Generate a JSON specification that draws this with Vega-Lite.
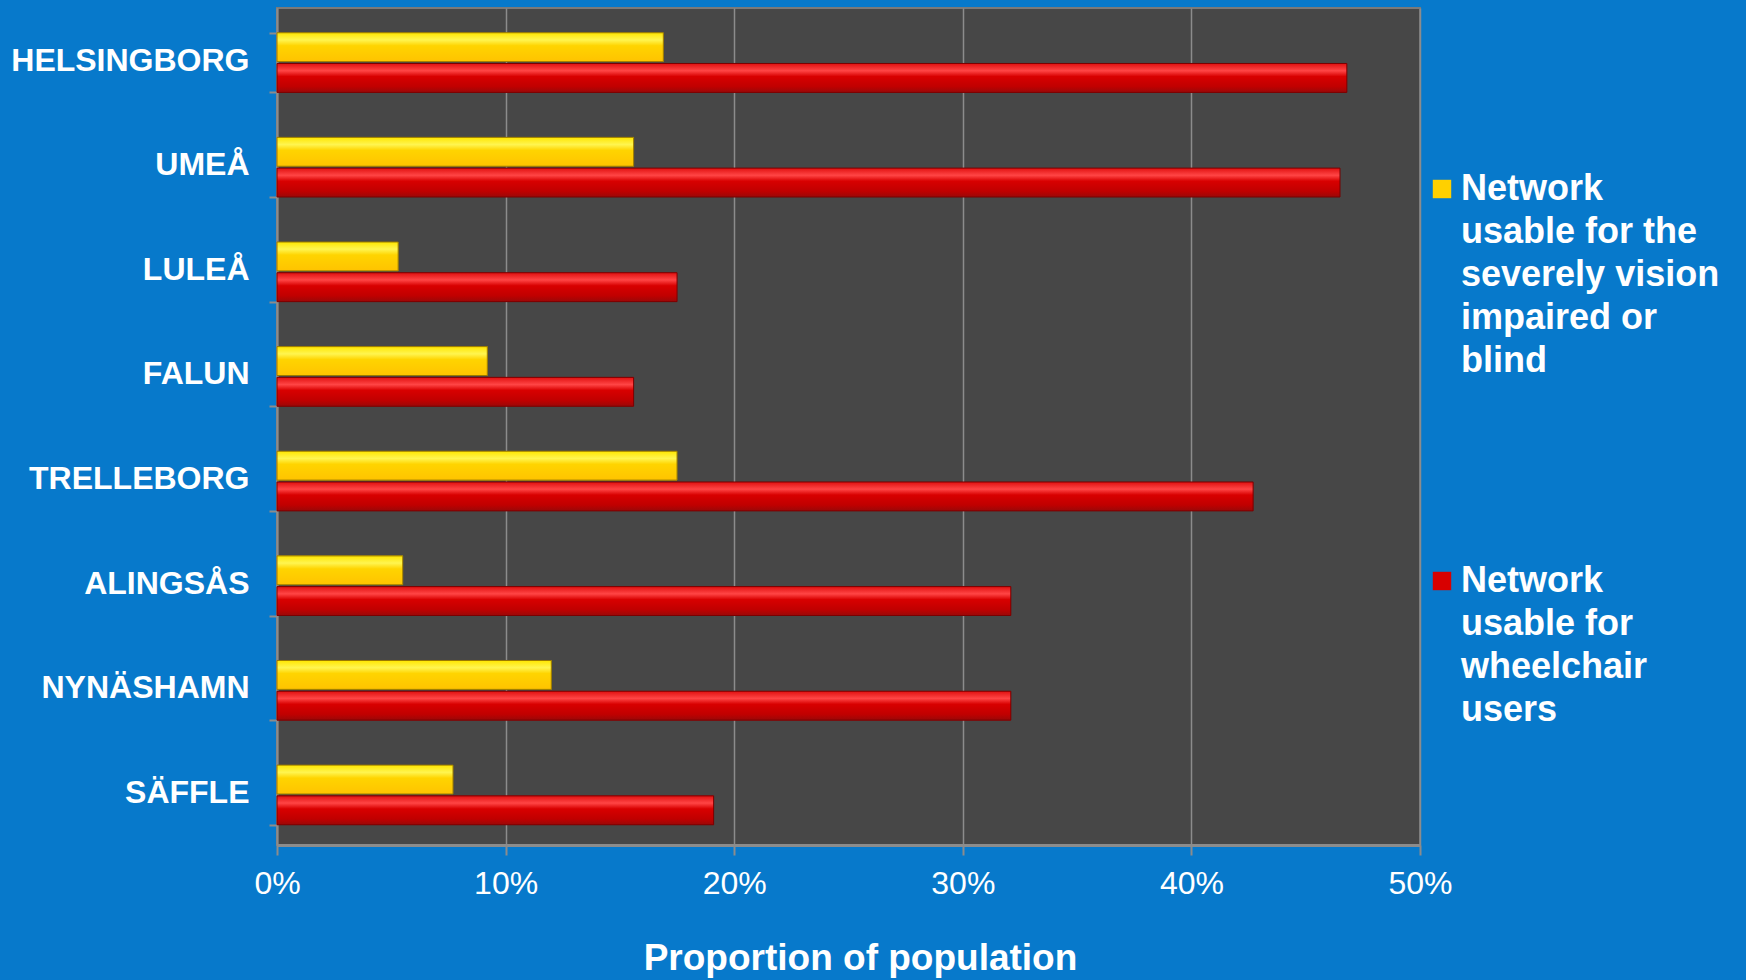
{
  "$schema": "https://vega.github.io/schema/vega-lite/v6.json",
  "autosize": {"type": "none"},
  "width": 1143,
  "height": 837,
  "padding": {"left": 277, "top": 8, "right": 326, "bottom": 135},
  "background": "#0779CB",
  "config": {
    "view": {"fill": "#474747", "stroke": "#7a7a7a", "strokeWidth": 2},
    "font": "Liberation Sans"
  },
  "data": {
    "values": [
      {"city": "HELSINGBORG", "series": "Network usable for the severely vision impaired or blind", "value": 0.169},
      {"city": "HELSINGBORG", "series": "Network usable for wheelchair users", "value": 0.468},
      {"city": "UMEÅ", "series": "Network usable for the severely vision impaired or blind", "value": 0.156},
      {"city": "UMEÅ", "series": "Network usable for wheelchair users", "value": 0.465},
      {"city": "LULEÅ", "series": "Network usable for the severely vision impaired or blind", "value": 0.053},
      {"city": "LULEÅ", "series": "Network usable for wheelchair users", "value": 0.175},
      {"city": "FALUN", "series": "Network usable for the severely vision impaired or blind", "value": 0.092},
      {"city": "FALUN", "series": "Network usable for wheelchair users", "value": 0.156},
      {"city": "TRELLEBORG", "series": "Network usable for the severely vision impaired or blind", "value": 0.175},
      {"city": "TRELLEBORG", "series": "Network usable for wheelchair users", "value": 0.427},
      {"city": "ALINGSÅS", "series": "Network usable for the severely vision impaired or blind", "value": 0.055},
      {"city": "ALINGSÅS", "series": "Network usable for wheelchair users", "value": 0.321},
      {"city": "NYNÄSHAMN", "series": "Network usable for the severely vision impaired or blind", "value": 0.120},
      {"city": "NYNÄSHAMN", "series": "Network usable for wheelchair users", "value": 0.321},
      {"city": "SÄFFLE", "series": "Network usable for the severely vision impaired or blind", "value": 0.077},
      {"city": "SÄFFLE", "series": "Network usable for wheelchair users", "value": 0.191}
    ]
  },
  "encoding": {
    "y": {
      "field": "city",
      "type": "nominal",
      "sort": ["HELSINGBORG", "UMEÅ", "LULEÅ", "FALUN", "TRELLEBORG", "ALINGSÅS", "NYNÄSHAMN", "SÄFFLE"],
      "scale": {"paddingInner": 0.43, "paddingOuter": 0.215, "align": 0.55},
      "axis": {
        "title": null,
        "tickBand": "extent",
        "tickSize": 8,
        "tickColor": "#8c8c8c",
        "tickWidth": 2,
        "domainColor": "#8c8c8c",
        "domainWidth": 2,
        "labelFont": "Liberation Sans",
        "labelFontWeight": "bold",
        "labelFontSize": 32,
        "labelColor": "white",
        "labelPadding": 20,
        "labelOffset": -2.5,
        "labelLimit": 400,
        "grid": false
      }
    },
    "yOffset": {
      "field": "series",
      "type": "nominal",
      "sort": ["Network usable for the severely vision impaired or blind", "Network usable for wheelchair users"],
      "scale": {"paddingInner": 0.06}
    },
    "x": {
      "field": "value",
      "type": "quantitative",
      "scale": {"domain": [0, 0.5], "nice": false},
      "axis": {
        "format": "%",
        "values": [0, 0.1, 0.2, 0.3, 0.4, 0.5],
        "title": "Proportion of population",
        "titleFont": "Liberation Sans",
        "titleFontWeight": "bold",
        "titleFontSize": 37,
        "titleColor": "white",
        "titlePadding": 41,
        "titleX": 583,
        "labelFont": "Liberation Sans",
        "labelFontSize": 32,
        "labelColor": "white",
        "labelPadding": 13,
        "labelFlush": false,
        "tickSize": 10,
        "tickColor": "#8c8c8c",
        "tickWidth": 2,
        "domainColor": "#8c8c8c",
        "domainWidth": 3,
        "grid": true,
        "gridColor": "#8c8c8c",
        "gridWidth": 1.5
      }
    }
  },
  "layer": [
    {
      "mark": {"type": "bar", "cornerRadius": 0},
      "encoding": {
        "color": {
          "field": "series",
          "type": "nominal",
          "scale": {
            "domain": ["Network usable for the severely vision impaired or blind", "Network usable for wheelchair users"],
            "range": ["#FFD000", "#D80000"]
          },
          "legend": {
            "title": null,
            "orient": "none",
            "legendX": 1147,
            "legendY": 163,
            "symbolType": "square",
            "symbolSize": 340,
            "symbolStrokeWidth": 0,
            "symbolOpacity": 1,
            "labelFont": "Liberation Sans",
            "labelFontWeight": "bold",
            "labelFontSize": 36,
            "labelColor": "white",
            "labelLimit": 400,
            "labelOffset": 1,
            "rowPadding": 184,
            "labelExpr": "datum.label == 'Network usable for wheelchair users' ? ['Network', 'usable for', 'wheelchair', 'users'] : ['Network', 'usable for the', 'severely vision', 'impaired or', 'blind']",
            "encode": {
              "labels": {"update": {"lineHeight": {"value": 43}}}
            }
          }
        }
      }
    },
    {
      "transform": [{"filter": "datum.series == 'Network usable for the severely vision impaired or blind'"}],
      "mark": {
        "type": "bar",
        "stroke": "#9a7a00",
        "strokeWidth": 1,
        "color": {
          "gradient": "linear", "x1": 0, "y1": 0, "x2": 0, "y2": 1,
          "stops": [
            {"offset": 0, "color": "#FFE600"},
            {"offset": 0.25, "color": "#FFF550"},
            {"offset": 0.45, "color": "#FFD400"},
            {"offset": 1, "color": "#FFC300"}
          ]
        }
      }
    },
    {
      "transform": [{"filter": "datum.series == 'Network usable for wheelchair users'"}],
      "mark": {
        "type": "bar",
        "stroke": "#7a0000",
        "strokeWidth": 1,
        "color": {
          "gradient": "linear", "x1": 0, "y1": 0, "x2": 0, "y2": 1,
          "stops": [
            {"offset": 0, "color": "#E01010"},
            {"offset": 0.25, "color": "#FF4545"},
            {"offset": 0.45, "color": "#D80000"},
            {"offset": 0.8, "color": "#C00000"},
            {"offset": 1, "color": "#9A0808"}
          ]
        }
      }
    }
  ]
}
